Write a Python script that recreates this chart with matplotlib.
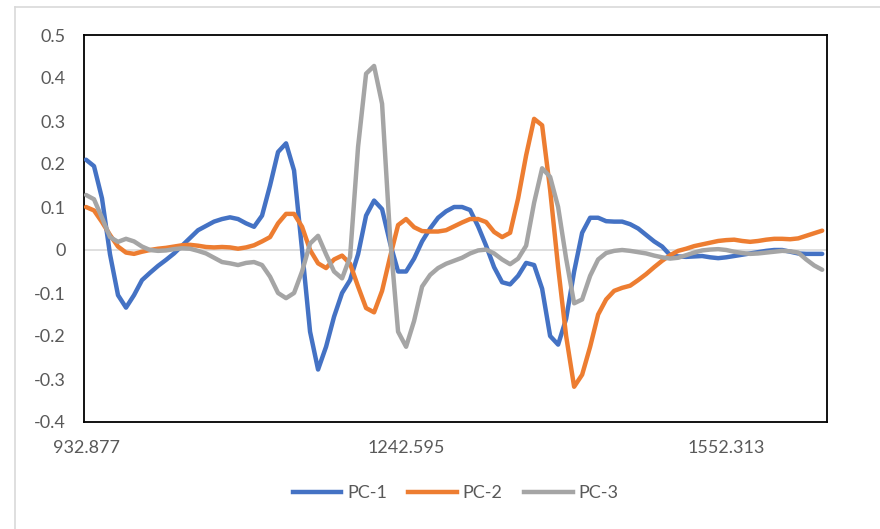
import matplotlib
matplotlib.use("Agg")
import matplotlib.pyplot as plt
from matplotlib.lines import Line2D
import numpy as np

# Loadings (one value per category step)
pc1 = [0.21, 0.195, 0.12, -0.01, -0.105, -0.134, -0.105, -0.07, -0.053, -0.037,
       -0.023, -0.008, 0.01, 0.028, 0.046, 0.056, 0.066, 0.072, 0.076, 0.072,
       0.062, 0.054, 0.08, 0.15, 0.228, 0.248, 0.185, 0.0, -0.19, -0.278,
       -0.225, -0.155, -0.1, -0.07, -0.01, 0.08, 0.115, 0.095, 0.016, -0.05,
       -0.05, -0.02, 0.02, 0.05, 0.075, 0.09, 0.1, 0.1, 0.093, 0.055,
       0.01, -0.04, -0.075, -0.08, -0.06, -0.03, -0.035, -0.09, -0.2, -0.22,
       -0.16, -0.05, 0.04, 0.075, 0.075, 0.067, 0.066, 0.066, 0.06, 0.05,
       0.035, 0.02, 0.008, -0.012, -0.015, -0.016, -0.015, -0.014, -0.017, -0.019,
       -0.017, -0.014, -0.011, -0.008, -0.005, -0.002, 0.0, 0.0, -0.004, -0.008,
       -0.009, -0.009, -0.009]
pc2 = [0.1, 0.092, 0.065, 0.035, 0.008, -0.006, -0.009, -0.004, 0.0, 0.003,
       0.005, 0.008, 0.011, 0.012, 0.01, 0.007, 0.006, 0.007, 0.006, 0.003,
       0.006, 0.011, 0.02, 0.03, 0.062, 0.084, 0.084, 0.054, 0.0, -0.031,
       -0.042, -0.022, -0.013, -0.032, -0.085, -0.135, -0.145, -0.095, -0.016, 0.058,
       0.072, 0.053, 0.044, 0.043, 0.043, 0.046, 0.055, 0.064, 0.072, 0.072,
       0.065, 0.042, 0.03, 0.04, 0.12, 0.22, 0.305, 0.29, 0.14, -0.04,
       -0.2, -0.318, -0.29, -0.225, -0.15, -0.115, -0.095, -0.088, -0.083, -0.07,
       -0.056, -0.04, -0.025, -0.012, -0.002, 0.003, 0.009, 0.013, 0.017, 0.021,
       0.023, 0.024, 0.021, 0.019, 0.021, 0.024, 0.026, 0.026, 0.025, 0.027,
       0.033, 0.039, 0.045]
pc3 = [0.128, 0.118, 0.075, 0.03, 0.019, 0.026, 0.02, 0.008, 0.0, -0.002,
       -0.001, 0.002, 0.004, 0.003, -0.002, -0.008, -0.018, -0.028, -0.031, -0.035,
       -0.03, -0.028, -0.035, -0.062, -0.1, -0.112, -0.1, -0.05, 0.015, 0.033,
       -0.01, -0.05, -0.066, -0.016, 0.24, 0.41, 0.428, 0.34, 0.03, -0.19,
       -0.225, -0.165, -0.085, -0.058, -0.042, -0.032, -0.025, -0.018, -0.008, -0.001,
       0.001, -0.008, -0.022, -0.033, -0.02, 0.01, 0.11, 0.19, 0.17, 0.1,
       -0.02, -0.124, -0.115, -0.06, -0.022, -0.007, -0.002, 0.0, -0.002, -0.005,
       -0.008, -0.013, -0.017, -0.02, -0.018, -0.012, -0.006, -0.001, 0.001, 0.002,
       0.0, -0.004, -0.007, -0.009, -0.008, -0.006, -0.004, -0.002, -0.003, -0.006,
       -0.022, -0.036, -0.046]

tick_pos = [0, 40, 80]
tick_labels = ["932.877", "1242.595", "1552.313"]
series_names = ["PC-1", "PC-2", "PC-3"]
colors = ["#4472C4", "#ED7D31", "#A5A5A5"]

plt.rcParams['font.family'] = ['Lato', 'DejaVu Sans']
text_color = "#595959"

fig = plt.figure(figsize=(8.8, 5.29), dpi=100)
ax = fig.add_axes([84 / 880, 1 - 422 / 529, (827 - 84) / 880, (422 - 35) / 529])

x = np.arange(len(pc1))
ax.axhline(0, color="#D9D9D9", lw=1.2, zorder=1)
for vals, col, name in zip([pc1, pc2, pc3], colors, series_names):
    ax.plot(x, vals, color=col, lw=3.2, label=name, zorder=3,
            solid_joinstyle='round', solid_capstyle='round')

ax.set_xlim(-0.25, 92.6)
ax.set_ylim(-0.4, 0.5)
ax.set_yticks(np.round(np.arange(-0.4, 0.51, 0.1), 1))
ax.set_yticklabels(["-0.4", "-0.3", "-0.2", "-0.1", "0", "0.1", "0.2", "0.3", "0.4", "0.5"])
ax.set_xticks(tick_pos)
ax.set_xticklabels(tick_labels)
ax.tick_params(axis='both', length=0, labelsize=13, colors=text_color)
ax.tick_params(axis='x', pad=13)
ax.tick_params(axis='y', pad=13)

for sp in ax.spines.values():
    sp.set_color("black")
    sp.set_linewidth(1.3)

# Legend below the plot
handles = [Line2D([0], [0], color=c, lw=3.2) for c in colors]
leg = fig.legend(handles, series_names, loc='center', bbox_to_anchor=(455.5 / 880, 1 - 493 / 529),
                 ncol=3, frameon=False, fontsize=13, handlelength=2.7, handletextpad=0.3,
                 columnspacing=1.2)
for t in leg.get_texts():
    t.set_color(text_color)

# Light chart-area border
fig.add_artist(Line2D([15 / 880, 15 / 880], [0, 1 - 7 / 529], transform=fig.transFigure,
                      color="#D9D9D9", lw=1.2))
fig.add_artist(Line2D([15 / 880, 1], [1 - 7 / 529, 1 - 7 / 529], transform=fig.transFigure,
                      color="#D9D9D9", lw=1.2))

fig.savefig("out.png", dpi=100)
